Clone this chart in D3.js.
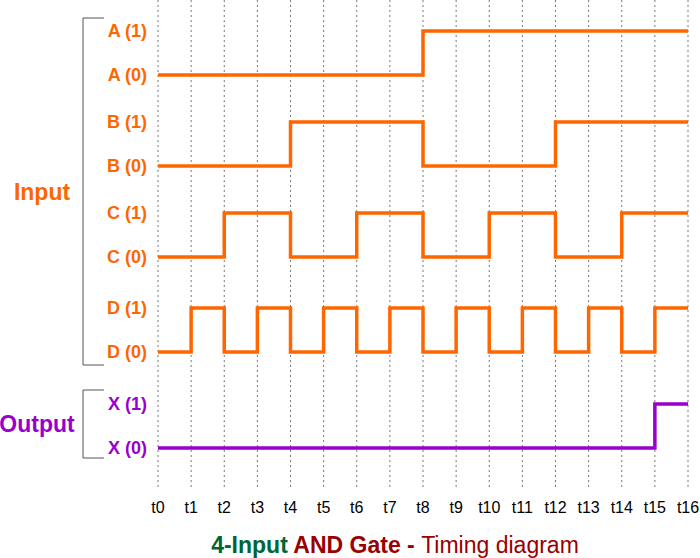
<!DOCTYPE html>
<html><head><meta charset="utf-8">
<script src="https://cdn.jsdelivr.net/npm/d3@7"></script>
<style>body{margin:0;background:#fff}</style>
</head><body>
<svg id="chart" width="700" height="558"></svg>
<script>
const ticks = d3.range(17).map(i => "t" + i);
// signal states for each interval t0..t16
const sigA = [0,0,0,0,0,0,0,0,1,1,1,1,1,1,1,1];
const sigB = [0,0,0,0,1,1,1,1,0,0,0,0,1,1,1,1];
const sigC = [0,0,1,1,0,0,1,1,0,0,1,1,0,0,1,1];
const sigD = [0,1,0,1,0,1,0,1,0,1,0,1,0,1,0,1];
const sigX = [0,0,0,0,0,0,0,0,0,0,0,0,0,0,0,1];
const signals = [
  {name: "A", vals: sigA, hi: 31, color: "#ff6600"},
  {name: "B", vals: sigB, hi: 122, color: "#ff6600"},
  {name: "C", vals: sigC, hi: 213, color: "#ff6600"},
  {name: "D", vals: sigD, hi: 308, color: "#ff6600"},
  {name: "X", vals: sigX, hi: 404, color: "#9900cc"}
];
const gap = 44;
const font = "Liberation Sans, Arial, sans-serif";

const svg = d3.select("#chart");
const x = d3.scaleLinear().domain([0, 16]).range([158, 688]);

// dotted grid
svg.selectAll("line.grid").data(d3.range(17)).enter().append("line")
  .attr("x1", d => x(d)).attr("x2", d => x(d))
  .attr("y1", 0).attr("y2", 487)
  .attr("stroke", "#777").attr("stroke-width", 1).attr("stroke-dasharray", "2,3");

svg.selectAll("text.tick").data(ticks).enter().append("text")
  .attr("x", (d, i) => x(i)).attr("y", 513)
  .attr("text-anchor", "middle")
  .attr("font-family", font).attr("font-size", 16)
  .text(d => d);

signals.forEach(s => {
  const y = d3.scaleLinear().domain([0, 1]).range([s.hi + gap, s.hi]);
  const pts = s.vals.map((v, i) => [i, v]);
  pts.push([16, s.vals[15]]);
  svg.append("path")
    .attr("d", d3.line().x(d => x(d[0])).y(d => y(d[1])).curve(d3.curveStepAfter)(pts))
    .attr("fill", "none").attr("stroke", s.color).attr("stroke-width", 3.5);
  [1, 0].forEach(v => {
    svg.append("text").attr("x", 147).attr("y", y(v) + 6)
      .attr("text-anchor", "end").attr("fill", s.color)
      .attr("font-family", font).attr("font-weight", "bold").attr("font-size", 18)
      .text(`${s.name} (${v})`);
  });
});

function bracket(y1, y2, label, color, lx) {
  svg.append("path").attr("d", `M104,${y1}H83V${y2}H104`)
    .attr("fill", "none").attr("stroke", "#555").attr("stroke-width", 1);
  svg.append("text").attr("x", lx).attr("y", (y1 + y2) / 2 + 8)
    .attr("text-anchor", "middle").attr("fill", color)
    .attr("font-family", font).attr("font-weight", "bold").attr("font-size", 23)
    .text(label);
}
bracket(18, 365, "Input", "#ff6600", 42);
bracket(390, 458, "Output", "#9900cc", 37);

const t = svg.append("text").attr("x", 395).attr("y", 553).attr("text-anchor", "middle")
  .attr("font-family", font).attr("font-size", 23);
t.append("tspan").attr("fill", "#006633").attr("font-weight", "bold").text("4-Input ");
t.append("tspan").attr("fill", "#990000").attr("font-weight", "bold").text("AND Gate - ");
t.append("tspan").attr("fill", "#990000").text("Timing diagram");
</script>
</body></html>
